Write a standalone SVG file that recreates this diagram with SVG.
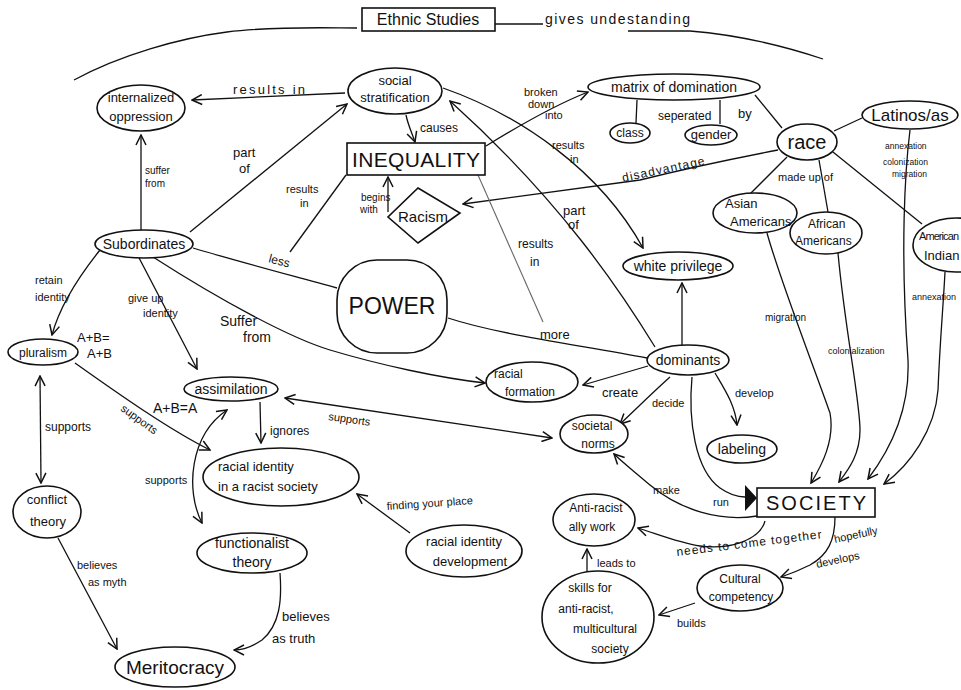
<svg xmlns="http://www.w3.org/2000/svg" width="961" height="690" viewBox="0 0 961 690" font-size="13">
<style>
  .n{fill:#fff;stroke:#111;stroke-width:1.6}
  .e{fill:none;stroke:#111;stroke-width:1.3}
  .g{fill:none;stroke:#666;stroke-width:1.1}
  text{font-family:"Liberation Sans","DejaVu Sans",sans-serif;fill:#111}
  .t{text-anchor:middle}
</style>
<defs>
  <marker id="a" viewBox="0 0 12 12" refX="11" refY="6" markerWidth="12" markerHeight="12" markerUnits="userSpaceOnUse" orient="auto-start-reverse">
    <path d="M1,1 L11,6 L1,11" fill="none" stroke="#111" stroke-width="1.5"/>
  </marker>
</defs>
<rect width="961" height="690" fill="#fff"/>

<g id="connectors">
  <path class="e" d="M74,80 C120,55 180,38 227,32 S330,28 357,28"/>
  <path class="e" d="M495,24 L543,24"/>
  <path class="e" d="M628,31 L690,31 C740,35 790,48 823,59"/>
  <path class="e" marker-end="url(#a)" d="M345,93 L192,100"/>
  <path class="e" marker-end="url(#a)" d="M141,232 L141,135"/>
  <path class="e" marker-end="url(#a)" d="M190,232 L347,104"/>
  <path class="e" d="M193,248 C240,262 290,275 337,288"/>
  <path class="e" d="M290,252 L346,175"/>
  <path class="e" marker-end="url(#a)" d="M406,115 C408,125 412,133 415,142"/>
  <path class="e" marker-end="url(#a)" d="M486,146 C520,125 555,105 588,92"/>
  <path class="e" d="M637,100 L636,123"/>
  <path class="e" d="M720,100 L720,124"/>
  <path class="e" d="M755,95 L782,128"/>
  <path class="e" d="M834,131 L862,118"/>
  <path class="e" marker-end="url(#a)" d="M778,150 Q700,165 640,180 L463,204"/>
  <path class="e" marker-end="url(#a)" d="M388,212 L388,177"/>
  <path class="e" d="M787,157 L750,194"/>
  <path class="e" d="M819,160 L828,212"/>
  <path class="e" d="M833,152 L922,224"/>
  <path class="e" d="M448,318 C500,335 580,345 647,358"/>
  <path class="g" d="M478,175 L543,322"/>
  <path class="e" marker-end="url(#a)" d="M153,257 C220,300 290,338 330,350 C380,365 440,378 485,383"/>
  <path class="e" marker-end="url(#a)" d="M648,366 L583,385"/>
  <path class="e" marker-end="url(#a)" d="M670,377 C650,395 635,410 620,424"/>
  <path class="e" marker-end="url(#a)" d="M715,373 C725,390 735,405 737,425"/>
  <path class="e" marker-end="url(#a)" d="M682,345 L682,283"/>
  <path class="e" marker-end="url(#a)" d="M443,88 C520,115 600,170 643,248"/>
  <path class="e" marker-end="url(#a)" d="M655,347 C620,290 560,200 450,101"/>
  <path class="e" marker-end="url(#a)" d="M100,250 C80,275 60,305 52,335"/>
  <path class="e" marker-end="url(#a)" d="M137,254 L197,369"/>
  <path class="e" marker-end="url(#a)" d="M75,363 C120,395 170,430 210,450"/>
  <path class="e" marker-end="url(#a)" d="M260,402 L261,443"/>
  <path class="e" marker-start="url(#a)" marker-end="url(#a)" d="M227,410 C190,435 185,490 202,523"/>
  <path class="e" marker-start="url(#a)" marker-end="url(#a)" d="M40,376 L41,483"/>
  <path class="e" marker-end="url(#a)" d="M58,538 L117,649"/>
  <path class="e" marker-end="url(#a)" d="M280,573 C282,600 280,625 262,640 C250,648 240,650 234,650"/>
  <path class="e" marker-start="url(#a)" marker-end="url(#a)" d="M285,398 L552,438"/>
  <path class="e" marker-end="url(#a)" d="M410,533 L357,494"/>
  <path class="e" d="M692,377 C688,420 695,470 720,488 C730,495 738,497 745,497"/>
  <polygon points="745,485 757,498 745,511" fill="#111"/>
  <path class="e" marker-end="url(#a)" d="M757,516 C720,522 680,510 650,485 C635,472 622,462 614,454"/>
  <path class="e" marker-end="url(#a)" d="M765,521 C760,540 730,550 700,546 C680,543 660,535 638,528"/>
  <path class="e" marker-end="url(#a)" d="M835,517 C835,540 828,555 810,565 C800,570 790,574 781,577"/>
  <path class="e" marker-end="url(#a)" d="M695,603 L659,615"/>
  <path class="e" marker-end="url(#a)" d="M587,572 L587,549"/>
  <path class="e" marker-end="url(#a)" d="M767,233 C780,280 815,370 830,413 C835,440 822,465 811,483"/>
  <path class="e" marker-end="url(#a)" d="M838,253 C845,330 860,400 860,430 C860,455 848,470 839,482"/>
  <path class="e" marker-end="url(#a)" d="M910,130 C905,170 900,250 908,360 C910,410 890,450 868,479"/>
  <path class="e" marker-end="url(#a)" d="M945,272 C943,310 940,340 938,390 C935,430 910,465 884,484"/>

  <text x="545" y="24" font-size="14" textLength="145">gives undestanding</text>
  <text x="233" y="94" font-size="13" textLength="72">results in</text>
  <text x="145" y="174" font-size="10">suffer</text>
  <text x="145" y="187" font-size="10">from</text>
  <text x="233" y="157" font-size="13">part</text>
  <text x="239" y="173" font-size="13">of</text>
  <text x="286" y="193" font-size="11">results</text>
  <text x="300" y="207" font-size="11">in</text>
  <text x="268" y="262" font-size="12" transform="rotate(15 268 262)">less</text>
  <text x="420" y="132" font-size="12">causes</text>
  <text x="524" y="96" font-size="11">broken</text>
  <text x="528" y="108" font-size="11">down</text>
  <text x="545" y="119" font-size="11">into</text>
  <text x="658" y="120" font-size="12">seperated</text>
  <text x="738" y="118" font-size="13">by</text>
  <text x="623" y="182" font-size="12" transform="rotate(-12 623 182)" textLength="84">disadvantage</text>
  <text x="361" y="201" font-size="10">begins</text>
  <text x="360" y="213" font-size="10">with</text>
  <text x="552" y="149" font-size="11">results</text>
  <text x="570" y="163" font-size="11">in</text>
  <text x="563" y="215" font-size="13">part</text>
  <text x="568" y="229" font-size="13">of</text>
  <text x="518" y="248" font-size="12">results</text>
  <text x="530" y="266" font-size="12">in</text>
  <text x="540" y="339" font-size="13">more</text>
  <text x="778" y="181" font-size="11">made up of</text>
  <text x="35" y="284" font-size="11">retain</text>
  <text x="35" y="301" font-size="11">identity</text>
  <text x="77" y="342" font-size="13">A+B=</text>
  <text x="87" y="358" font-size="13">A+B</text>
  <text x="128" y="302" font-size="11">give up</text>
  <text x="143" y="317" font-size="11">identity</text>
  <text x="220" y="326" font-size="14">Suffer</text>
  <text x="243" y="342" font-size="14">from</text>
  <text x="153" y="413" font-size="14">A+B=A</text>
  <text x="120" y="410" font-size="11" transform="rotate(36 120 410)">supports</text>
  <text x="270" y="435" font-size="12">ignores</text>
  <text x="45" y="431" font-size="12">supports</text>
  <text x="145" y="484" font-size="11">supports</text>
  <text x="328" y="420" font-size="11" transform="rotate(8 328 420)">supports</text>
  <text x="602" y="397" font-size="13">create</text>
  <text x="652" y="407" font-size="11">decide</text>
  <text x="735" y="397" font-size="11">develop</text>
  <text x="765" y="321" font-size="10">migration</text>
  <text x="828" y="354" font-size="9">colonialization</text>
  <text x="885" y="149" font-size="8.5">annexation</text>
  <text x="883" y="165" font-size="8.5">colonization</text>
  <text x="892" y="177" font-size="8.5">migration</text>
  <text x="912" y="300" font-size="9">annexation</text>
  <text x="77" y="569" font-size="11">believes</text>
  <text x="88" y="586" font-size="11">as myth</text>
  <text x="282" y="621" font-size="13">believes</text>
  <text x="272" y="643" font-size="13">as truth</text>
  <text x="387" y="510" font-size="11" transform="rotate(-4 387 510)">finding your place</text>
  <text x="653" y="494" font-size="11">make</text>
  <text x="713" y="506" font-size="11">run</text>
  <text x="677" y="556" font-size="12" transform="rotate(-7 677 556)" textLength="146">needs to come together</text>
  <text x="835" y="543" font-size="11" transform="rotate(-12 835 543)">hopefully</text>
  <text x="817" y="568" font-size="11" transform="rotate(-12 817 568)">develops</text>
  <text x="677" y="627" font-size="11">builds</text>
  <text x="597" y="567" font-size="11">leads to</text>
</g>

<g id="ethnic-studies"><rect class="n" x="362" y="8" width="133" height="23"/><text class="t" x="428" y="25" font-size="16">Ethnic Studies</text></g>
<g id="social-stratification"><ellipse class="n" cx="395" cy="91" rx="47" ry="23"/><text class="t" x="395" y="85">social</text><text class="t" x="395" y="102">stratification</text></g>
<g id="internalized-oppression"><ellipse class="n" cx="141" cy="108" rx="44" ry="23"/><text class="t" x="141" y="102">internalized</text><text class="t" x="141" y="121">oppression</text></g>
<g id="inequality"><rect class="n" x="347" y="143" width="138" height="32"/><text class="t" x="416" y="167" font-size="21" textLength="128">INEQUALITY</text></g>
<g id="matrix"><ellipse class="n" cx="674" cy="87" rx="86" ry="13"/><text class="t" x="674" y="92" font-size="14">matrix of domination</text></g>
<g id="class"><ellipse class="n" cx="630" cy="133" rx="20" ry="10"/><text class="t" x="630" y="137" font-size="12">class</text></g>
<g id="gender"><ellipse class="n" cx="711" cy="135" rx="26" ry="10"/><text class="t" x="711" y="139" font-size="13">gender</text></g>
<g id="race"><ellipse class="n" cx="807" cy="142" rx="30" ry="18"/><text class="t" x="807" y="149" font-size="20">race</text></g>
<g id="latinos"><ellipse class="n" cx="910" cy="115" rx="48" ry="14"/><text class="t" x="910" y="121" font-size="17">Latinos/as</text></g>
<g id="racism"><polygon class="n" points="418,188 460,213 418,243 388,217"/><text class="t" x="423" y="222" font-size="15">Racism</text></g>
<g id="power"><rect class="n" x="337" y="260" width="110" height="93" rx="40"/><text class="t" x="392" y="314" font-size="23">POWER</text></g>
<g id="subordinates"><ellipse class="n" cx="144" cy="244" rx="49" ry="14"/><text class="t" x="144" y="249" font-size="14">Subordinates</text></g>
<g id="pluralism"><ellipse class="n" cx="43" cy="352" rx="35" ry="13"/><text class="t" x="43" y="357" font-size="12">pluralism</text></g>
<g id="assimilation"><ellipse class="n" cx="231" cy="389" rx="47" ry="12"/><text class="t" x="231" y="394" font-size="14">assimilation</text></g>
<g id="racial-identity-society"><ellipse class="n" cx="281" cy="477" rx="78" ry="29"/><text x="218" y="471" font-size="13">racial  identity</text><text x="218" y="491" font-size="13">in a racist society</text></g>
<g id="white-privilege"><ellipse class="n" cx="678" cy="266" rx="55" ry="14"/><text class="t" x="678" y="271" font-size="14">white privilege</text></g>
<g id="dominants"><ellipse class="n" cx="688" cy="360" rx="41" ry="15"/><text class="t" x="688" y="365" font-size="14">dominants</text></g>
<g id="racial-formation"><ellipse class="n" cx="532" cy="382" rx="46" ry="20"/><text x="494" y="378" font-size="12">racial</text><text x="505" y="396" font-size="12">formation</text></g>
<g id="societal-norms"><ellipse class="n" cx="594" cy="434" rx="34" ry="19"/><text class="t" x="592" y="430" font-size="12">societal</text><text class="t" x="598" y="448" font-size="12">norms</text></g>
<g id="labeling"><ellipse class="n" cx="742" cy="449" rx="35" ry="14"/><text class="t" x="742" y="454" font-size="14">labeling</text></g>
<g id="society"><rect class="n" x="757" y="488" width="118" height="29"/><text class="t" x="816" y="510" font-size="20" textLength="100">SOCIETY</text></g>
<g id="asian-americans"><ellipse class="n" cx="755" cy="213" rx="42" ry="20"/><text x="725" y="208" font-size="13">Asian</text><text x="730" y="226" font-size="13">Americans</text></g>
<g id="african-americans"><ellipse class="n" cx="826" cy="233" rx="36" ry="21"/><text x="808" y="228" font-size="12">African</text><text x="795" y="245" font-size="12">Americans</text></g>
<g id="american-indian"><ellipse class="n" cx="956" cy="245" rx="43" ry="27"/><text x="919" y="240" font-size="11" textLength="40">American</text><text x="924" y="260" font-size="13">Indian</text></g>
<g id="conflict-theory"><ellipse class="n" cx="47" cy="512" rx="34" ry="26"/><text class="t" x="47" y="504">conflict</text><text class="t" x="48" y="526">theory</text></g>
<g id="functionalist-theory"><ellipse class="n" cx="252" cy="553" rx="55" ry="20"/><text class="t" x="252" y="548" font-size="14">functionalist</text><text class="t" x="252" y="567" font-size="14">theory</text></g>
<g id="meritocracy"><ellipse class="n" cx="175" cy="667" rx="60" ry="20"/><text class="t" x="175" y="674" font-size="19">Meritocracy</text></g>
<g id="racial-identity-development"><ellipse class="n" cx="464" cy="551" rx="58" ry="26"/><text class="t" x="464" y="546">racial  identity</text><text class="t" x="470" y="566">development</text></g>
<g id="anti-racist-ally-work"><ellipse class="n" cx="594" cy="520" rx="41" ry="26"/><text class="t" x="596" y="512" font-size="12">Anti-racist</text><text class="t" x="592" y="531" font-size="12">ally work</text></g>
<g id="skills"><ellipse class="n" cx="598" cy="617" rx="56" ry="46"/><text class="t" x="590" y="592" font-size="12">skills for</text><text class="t" x="586" y="613" font-size="12">anti-racist,</text><text class="t" x="605" y="633" font-size="12">multicultural</text><text class="t" x="610" y="653" font-size="12">society</text></g>
<g id="cultural-competency"><ellipse class="n" cx="740" cy="588" rx="43" ry="23"/><text class="t" x="740" y="583" font-size="12">Cultural</text><text class="t" x="741" y="601" font-size="12">competency</text></g>
</svg>
